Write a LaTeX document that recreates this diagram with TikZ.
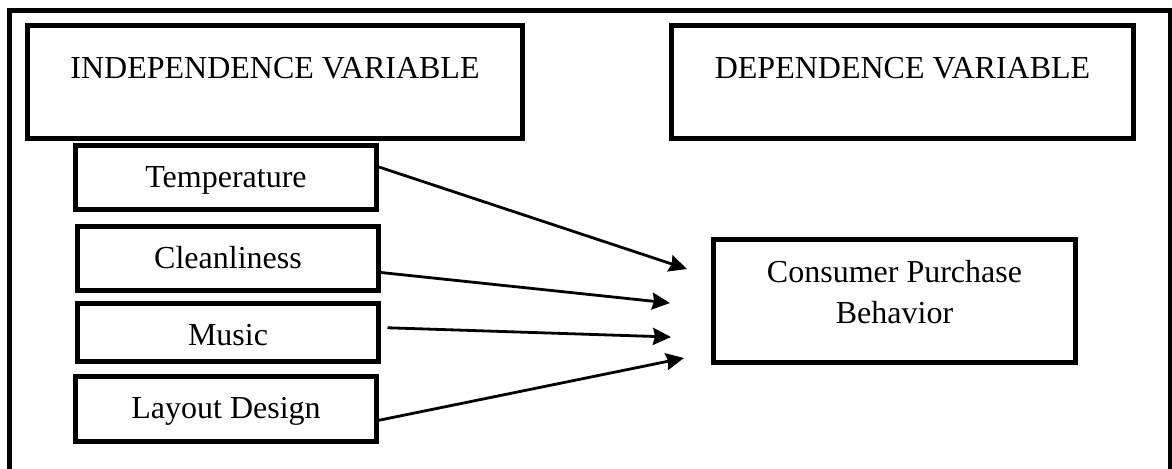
\documentclass[tikz,border=0pt]{standalone}
\usepackage{fontspec}
\setmainfont{Liberation Serif}
\usetikzlibrary{arrows.meta}

\begin{document}
\begin{tikzpicture}[x=0.5pt,y=-0.5pt,>={Stealth[length=9pt,width=8.5pt,inset=1pt]},
  every node/.style={font=\fontsize{16}{20.5}\selectfont},
  box/.style={draw,line width=2.5pt,inner sep=0pt,anchor=base},
  head/.style={box,text height=26.25pt,text depth=30.25pt},
  var/.style={box,minimum width=150.5pt,text height=21pt,text depth=11pt},
  link/.style={->,line width=1.4pt}]
  \useasboundingbox (0,0) rectangle (1172,468);
  \draw[line width=2.5pt] (9.5,480) |- (1170.5,10) -- (1170.5,480);

  \node[head,minimum width=247.5pt] (indep) at (275,78)   {INDEPENDENCE VARIABLE};
  \node[head,minimum width=231pt]   (dep)   at (902.5,78) {DEPENDENCE VARIABLE};

  \node[var]                     (temp)   at (226,187) {Temperature};
  \node[var]                     (clean)  at (228,268) {Cleanliness};
  \node[var,text depth=8.25pt]   (music)  at (228,345) {Music};
  \node[var,text depth=11.75pt]  (layout) at (226,418) {Layout Design};

  \node[box,align=center,minimum width=181pt,text height=41.75pt,text depth=19.75pt]
    (cpb) at (894.5,323) {Consumer Purchase\\Behavior};

  \coordinate (t1) at (687,269);
  \coordinate (t2) at (670,303);
  \coordinate (t3) at (671,337);
  \coordinate (t4) at (684,358);

  \draw[link] ([yshift=5pt]temp.east) -- (t1);
  \draw[link] ([yshift=-7.25pt]clean.east) -- (t2);
  \draw[link] ([xshift=3.25pt,yshift=2.25pt]music.east) -- (t3);
  \draw[link] ([yshift=-5.75pt]layout.east) -- (t4);
\end{tikzpicture}
\end{document}
